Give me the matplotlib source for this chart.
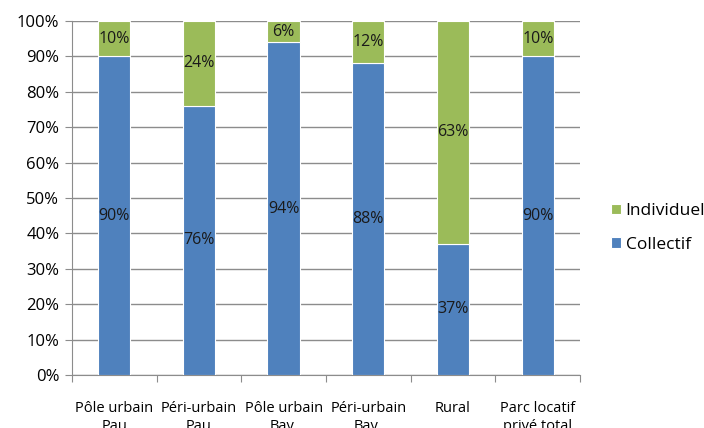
import matplotlib
matplotlib.use("Agg")
import matplotlib.pyplot as plt
import numpy as np

# Part du parc locatif privé par type de logement
categories = ["Pôle urbain\nPau", "Péri-urbain\nPau", "Pôle urbain\nBay.",
              "Péri-urbain\nBay.", "Rural", "Parc locatif\nprivé total"]
collectif = [90, 76, 94, 88, 37, 90]
individuel = [10, 24, 6, 12, 63, 10]

blue = "#4F81BD"
green = "#9BBB59"
grid_grey = "#8C8C8C"

plt.rcParams["font.family"] = ["Open Sans", "DejaVu Sans"]

fig = plt.figure(figsize=(7.04, 4.28), dpi=100)
ax = fig.add_axes([0.102, 0.124, 0.722, 0.827])

x = np.arange(len(categories))
w = 0.38
b1 = ax.bar(x, collectif, w, color=blue, edgecolor="white", linewidth=0.8,
            label="Collectif", zorder=3)
b2 = ax.bar(x, individuel, w, bottom=collectif, color=green, edgecolor="white",
            linewidth=0.8, label="Individuel", zorder=3)

# étiquettes au centre de chaque segment
for xi, c, i in zip(x, collectif, individuel):
    ax.text(xi, c / 2, f"{c}%", ha="center", va="center", fontsize=11.5,
            color="#1a1a1a", zorder=4)
    ax.text(xi, c + i / 2, f"{i}%", ha="center", va="center", fontsize=11.5,
            color="#1a1a1a", zorder=4)

ax.set_xlim(-0.5, len(categories) - 0.5)
ax.set_ylim(0, 100)
ax.set_yticks(range(0, 101, 10))
ax.set_yticklabels([f"{v}%" for v in range(0, 101, 10)], fontsize=12)
ax.yaxis.grid(True, color=grid_grey, linewidth=1.0, zorder=0)
ax.tick_params(axis="y", length=5, color=grid_grey, pad=4)

# ticks aux limites entre catégories, libellés au centre
ax.set_xticks(np.arange(-0.5, len(categories), 1.0))
ax.set_xticklabels([])
ax.set_xticks(x, minor=True)
ax.set_xticklabels(categories, minor=True, fontsize=10.5)
ax.tick_params(axis="x", which="major", length=5, color=grid_grey)
ax.tick_params(axis="x", which="minor", length=0, pad=19)

for s in ["top", "right"]:
    ax.spines[s].set_visible(False)
for s in ["left", "bottom"]:
    ax.spines[s].set_color(grid_grey)

handles = [b2, b1]
ax.legend(handles, ["Individuel", "Collectif"], loc="center left",
          bbox_to_anchor=(1.03, 0.415), frameon=False, fontsize=12.5,
          handlelength=0.55, handleheight=0.55, handletextpad=0.3,
          labelspacing=1.0)

fig.savefig("out.png", dpi=100)
